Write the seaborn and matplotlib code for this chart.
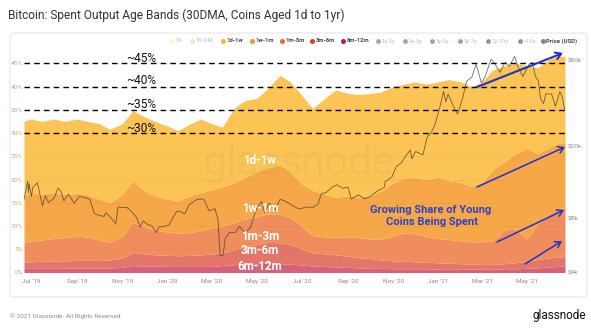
import numpy as np
import pandas as pd
import matplotlib
matplotlib.use("Agg")
import matplotlib.pyplot as plt
import matplotlib.dates as mdates
import matplotlib.ticker as mticker
from matplotlib.patches import FancyBboxPatch
from matplotlib.transforms import IdentityTransform
import seaborn as sns

# ---------------- data ----------------
band_dates = ["2019-06-21", "2019-07-01", "2019-07-15", "2019-08-01", "2019-08-15", "2019-09-01",
              "2019-09-15", "2019-10-01", "2019-10-15", "2019-11-01", "2019-11-15", "2019-12-01",
              "2019-12-15", "2020-01-01", "2020-01-15", "2020-02-01", "2020-02-15", "2020-03-01",
              "2020-03-15", "2020-04-01", "2020-04-15", "2020-05-01", "2020-05-15", "2020-06-01",
              "2020-06-15", "2020-07-01", "2020-07-15", "2020-08-01", "2020-08-15", "2020-09-01",
              "2020-09-15", "2020-10-01", "2020-10-15", "2020-11-01", "2020-11-15", "2020-12-01",
              "2020-12-15", "2021-01-01", "2021-01-15", "2021-02-01", "2021-02-15", "2021-03-01",
              "2021-03-15", "2021-04-01", "2021-04-15", "2021-05-01", "2021-05-15", "2021-06-01",
              "2021-06-10", "2021-06-21"]

# upper edge of each stacked band (cumulative share of spent outputs, %)
edge_6m_12m = [0.9, 0.9, 0.9, 0.9, 0.9, 1.0, 1.0, 1.0, 1.0, 1.1, 1.5, 1.4, 1.4, 1.3, 1.3, 1.3, 1.3,
               1.3, 1.5, 1.7, 1.8, 1.9, 2.0, 1.9, 1.8, 1.6, 1.4, 1.3, 1.2, 1.1, 1.0, 0.9, 0.9, 0.8,
               0.8, 0.8, 0.8, 0.7, 0.7, 0.7, 0.7, 0.7, 0.7, 0.8, 0.8, 0.9, 1.0, 1.2, 1.3, 1.4]
edge_3m_6m = [2.3, 2.3, 2.4, 2.5, 2.5, 2.6, 2.6, 2.6, 2.7, 3.1, 4.3, 4.0, 3.8, 3.7, 3.6, 3.7, 3.8,
              4.0, 4.2, 5.0, 5.5, 6.0, 6.5, 6.4, 6.0, 5.0, 4.2, 4.0, 3.8, 3.5, 3.2, 3.0, 2.7, 2.5,
              2.4, 2.3, 2.2, 2.1, 2.0, 1.9, 1.8, 1.7, 1.7, 1.9, 2.1, 2.4, 2.8, 3.2, 3.3, 3.4]
edge_1m_3m = [6.5, 6.8, 7.0, 7.3, 7.5, 7.8, 7.6, 7.0, 6.5, 7.8, 10.8, 9.8, 9.1, 8.7, 8.5, 8.6, 9.0,
              9.6, 10.0, 10.8, 11.5, 12.0, 12.6, 12.5, 11.8, 9.8, 8.0, 7.6, 7.6, 7.7, 7.5, 7.2, 7.1,
              7.8, 8.5, 8.3, 7.8, 7.3, 7.1, 6.8, 6.6, 6.6, 6.8, 9.2, 9.3, 7.2, 10.5, 12.8, 13.6, 14.0]
edge_1w_1m = [16.5, 17.2, 16.8, 17.2, 16.8, 17.0, 16.7, 15.8, 15.0, 16.8, 19.8, 17.5, 16.5, 15.8,
              15.4, 16.5, 17.2, 17.8, 18.5, 19.3, 20.5, 21.8, 22.5, 23.2, 21.5, 19.0, 17.7, 16.8,
              16.2, 16.5, 16.2, 16.5, 17.5, 19.3, 20.3, 20.5, 20.0, 20.5, 19.8, 19.3, 18.5, 19.5,
              22.0, 24.0, 25.5, 26.8, 25.5, 27.0, 27.7, 28.0]
edge_1d_1w = [32.5, 33.0, 32.5, 33.0, 32.5, 33.0, 32.5, 32.0, 30.8, 32.0, 34.8, 33.5, 32.5, 31.5,
              30.5, 32.0, 33.0, 32.0, 31.3, 35.5, 37.0, 37.5, 39.5, 42.4, 41.0, 38.0, 35.3, 37.5,
              39.3, 38.5, 38.3, 38.5, 38.8, 40.0, 40.5, 41.0, 40.5, 41.0, 41.5, 41.0, 40.0, 41.0,
              43.5, 44.5, 45.0, 44.5, 44.0, 46.0, 46.5, 46.5]

price_dates = ["2019-06-21", "2019-06-22", "2019-06-26", "2019-06-27", "2019-06-28", "2019-07-01",
               "2019-07-03", "2019-07-09", "2019-07-10", "2019-07-16", "2019-07-17", "2019-07-20",
               "2019-07-24", "2019-08-01", "2019-08-06", "2019-08-10", "2019-08-14", "2019-08-20",
               "2019-08-28", "2019-09-04", "2019-09-12", "2019-09-18", "2019-09-24", "2019-10-01",
               "2019-10-07", "2019-10-10", "2019-10-17", "2019-10-23", "2019-10-26", "2019-10-30",
               "2019-11-07", "2019-11-14", "2019-11-20", "2019-11-25", "2019-11-29", "2019-12-05",
               "2019-12-11", "2019-12-17", "2019-12-20", "2019-12-26", "2020-01-03", "2020-01-08",
               "2020-01-14", "2020-01-19", "2020-01-24", "2020-01-30", "2020-02-09", "2020-02-13",
               "2020-02-19", "2020-02-26", "2020-03-05", "2020-03-09", "2020-03-12", "2020-03-16",
               "2020-03-19", "2020-03-25", "2020-04-01", "2020-04-07", "2020-04-15", "2020-04-22",
               "2020-04-29", "2020-05-07", "2020-05-11", "2020-05-17", "2020-05-25", "2020-06-01",
               "2020-06-10", "2020-06-17", "2020-06-27", "2020-07-07", "2020-07-15", "2020-07-22",
               "2020-07-27", "2020-08-02", "2020-08-10", "2020-08-17", "2020-08-24", "2020-09-01",
               "2020-09-05", "2020-09-15", "2020-09-23", "2020-10-01", "2020-10-10", "2020-10-20",
               "2020-10-21", "2020-10-30", "2020-11-05", "2020-11-12", "2020-11-18", "2020-11-24",
               "2020-11-26", "2020-12-01", "2020-12-11", "2020-12-17", "2020-12-22", "2020-12-27",
               "2021-01-02", "2021-01-08", "2021-01-11", "2021-01-14", "2021-01-22", "2021-01-27",
               "2021-02-03", "2021-02-08", "2021-02-15", "2021-02-21", "2021-02-28", "2021-03-05",
               "2021-03-13", "2021-03-17", "2021-03-25", "2021-04-01", "2021-04-07", "2021-04-14",
               "2021-04-18", "2021-04-25", "2021-05-03", "2021-05-08", "2021-05-12", "2021-05-16",
               "2021-05-19", "2021-05-23", "2021-05-26", "2021-06-03", "2021-06-08", "2021-06-14",
               "2021-06-17", "2021-06-21"]
price_usd = [10200, 10700, 12900, 11100, 12400, 10600, 11900, 12600, 12100, 9400, 9700, 10700,
             9800, 10400, 11800, 11300, 10000, 10900, 9700, 10600, 10400, 10200, 8500, 8300,
             8200, 8600, 8000, 7450, 9250, 9200, 9200, 8650, 8100, 7150, 7750, 7400,
             7250, 6650, 7150, 7200, 7350, 8050, 8800, 8700, 8450, 9500, 10150, 10250,
             10200, 8800, 9050, 7900, 4950, 5000, 6200, 6700, 6650, 7200, 6650, 7120,
             8800, 9950, 8600, 9700, 8900, 10200, 9880, 9450, 9000, 9250, 9200, 9550,
             11000, 11100, 11880, 12300, 11750, 11900, 10250, 10800, 10250, 10600, 11300, 11900,
             12800, 13550, 15500, 16300, 17800, 19150, 17100, 18800, 18000, 22800, 23800, 26300,
             32100, 40600, 35500, 39200, 33000, 30400, 37600, 46200, 48600, 57500, 45200, 48800,
             61200, 58900, 51700, 58800, 56000, 63500, 56100, 49000, 57200, 58800, 49100, 46400,
             37000, 34700, 39300, 39200, 33500, 40500, 38000, 31600]

pct_ticks = [0, 5, 10, 15, 20, 25, 30, 35, 40, 45]
price_ticks = [4000, 8000, 20000, 60000]
price_tick_labels = ["$4k", "$8k", "$20k", "$60k"]
ref_levels = [45, 40, 35, 30]
ref_labels = ["~45%", "~40%", "~35%", "~30%"]

legend_names = ["1h", "1h-24h", "1d-1w", "1w-1m", "1m-3m", "3m-6m", "6m-12m", "1y-2y", "2y-3y",
                "3y-5y", "5y-7y", "7y-10y", ">10y", "Price (USD)"]
legend_active = [False, False, True, True, True, True, True, False, False, False, False, False,
                 False, True]

# ---------------- style ----------------
sns.set_theme(style="white")
plt.rcParams['font.family'] = ['Roboto', 'DejaVu Sans']

W, H = 591, 328
fig = plt.figure(figsize=(W / 100, H / 100), dpi=100)
fig.patch.set_facecolor("white")


def fx(px):
    return px / W


def fy(py):
    return 1 - py / H


# card
card = FancyBboxPatch((10, H - 297), 577, 264, boxstyle="round,pad=0,rounding_size=4",
                      transform=IdentityTransform(), facecolor="white", edgecolor="#e6e6e6",
                      linewidth=0.8, zorder=-5)
fig.patches.append(card)

x0, x1, ytop, ybot = 24, 565, 54, 272.5
ax = fig.add_axes([fx(x0), fy(ybot), fx(x1) - fx(x0), fy(ytop) - fy(ybot)])
ax.set_facecolor("none")

d = pd.to_datetime(band_dates)
col_612 = "#d6627a"
col_36 = "#e3756a"
col_13 = "#ef8e5c"
col_1w1m = "#f6a748"
col_1d1w = "#fbc454"
zeros = np.zeros(len(d))
ax.fill_between(d, zeros, edge_6m_12m, color=col_612, lw=0, zorder=1)
ax.fill_between(d, edge_6m_12m, edge_3m_6m, color=col_36, lw=0, zorder=1)
ax.fill_between(d, edge_3m_6m, edge_1m_3m, color=col_13, lw=0, zorder=1)
ax.fill_between(d, edge_1m_3m, edge_1w_1m, color=col_1w1m, lw=0, zorder=1)
ax.fill_between(d, edge_1w_1m, edge_1d_1w, color=col_1d1w, lw=0, zorder=1)

ax.set_xlim(d[0], d[-1])
ax.set_ylim(0, 47)
ax.set_yticks(pct_ticks)
ax.set_yticklabels([f"{v}%" for v in pct_ticks])
for v in pct_ticks[1:]:
    ax.axhline(v, color="black", alpha=0.04, lw=0.6, zorder=2)
for v in ref_levels:
    ax.axhline(v, color="black", lw=1.0, ls=(0, (4, 3)), zorder=3)

ax.xaxis.set_major_locator(mdates.MonthLocator(bymonth=[1, 3, 5, 7, 9, 11]))
ax.xaxis.set_major_formatter(mdates.DateFormatter("%b '%y"))
ax.tick_params(axis="x", length=0, pad=5, labelsize=4.6, labelcolor="#8a8a8a")
ax.tick_params(axis="y", length=0, pad=1, labelsize=4.6, labelcolor="#e3a165")
for s in ax.spines.values():
    s.set_visible(False)
ax.grid(False)

# price on log axis
ax2 = ax.twinx()
pdates = pd.to_datetime(price_dates)
sns.lineplot(x=pdates, y=price_usd, ax=ax2, color="#3d3a30", lw=0.6, alpha=0.75)
ax2.set_yscale("log")
ax2.set_ylim(4000, 65450)
ax2.yaxis.set_major_locator(mticker.FixedLocator(price_ticks))
ax2.yaxis.set_minor_locator(mticker.NullLocator())
ax2.set_yticklabels(price_tick_labels)
ax2.tick_params(axis="y", length=0, pad=2, labelsize=4.6, labelcolor="#8a8a8a")
ax2.set_ylabel("")
ax2.set_xlabel("")
ax2.set_xlim(d[0], d[-1])
for s in ax2.spines.values():
    s.set_visible(False)
ax2.grid(False)

# watermark
fig.text(fx(298), fy(163), "glassnode", fontsize=30, color="#9a8a60", alpha=0.09,
         ha="center", va="center", family=["Roboto", "DejaVu Sans"])

# reference labels
ref_y = [58, 81, 105, 129]
for lab, yy in zip(ref_labels, ref_y):
    fig.text(fx(126), fy(yy), lab, fontsize=8.6, color="#111111", ha="left", va="center")

# band labels
band_labels = ["1d-1w", "1w-1m", "1m-3m", "3m-6m", "6m-12m"]
band_label_y = [160, 208, 236, 251, 267]
for lab, yy in zip(band_labels, band_label_y):
    fig.text(fx(260), fy(yy), lab, fontsize=8.4, color="white", fontweight="bold",
             ha="center", va="center")

fig.text(fx(431), fy(210), "Growing Share of Young", fontsize=8.0, color="#2d43c6",
         fontweight="bold", ha="center", va="center")
fig.text(fx(432), fy(222), "Coins Being Spent", fontsize=8.0, color="#2d43c6",
         fontweight="bold", ha="center", va="center")

# arrows (figure pixel coords)
arrows = [((477, 87), (563, 53), 1.5), ((477, 187), (565, 147), 1.1),
          ((497, 242), (564, 210), 1.1), ((525, 264), (562, 241), 1.1)]
for (sx, sy), (ex, ey), lw in arrows:
    fig.add_artist(matplotlib.patches.FancyArrowPatch(
        (sx, H - sy), (ex, H - ey), transform=IdentityTransform(),
        arrowstyle="->,head_length=4,head_width=2.5", color="#2233c8", lw=lw,
        shrinkA=0, shrinkB=0, zorder=10))

# legend
leg_x = [172, 192, 223, 252, 282, 312, 343, 378, 405, 432, 460, 488, 520, 543]
leg_c = ["#f7f08a", "#f3d148", "#f4b53c", "#ef9434", "#e96a30", "#d53f35", "#b4204e",
         "#8e1857", "#6c186b", "#4d1979", "#2b2680", "#111111", "#111111", "#888888"]
for name, xx, cc, act in zip(legend_names, leg_x, leg_c, legend_active):
    a = 1.0 if act else 0.35
    fig.add_artist(matplotlib.lines.Line2D([fx(xx)], [fy(41)], marker="o", markersize=2.6,
                                           color=cc, alpha=a, lw=0, transform=fig.transFigure))
    fig.text(fx(xx + 3.5), fy(41), name, fontsize=4.2, color="#444444" if act else "#bbbbbb",
             ha="left", va="center", fontweight="bold" if act else "normal")

# title and footer
fig.text(fx(8), fy(15), "Bitcoin: Spent Output Age Bands (30DMA, Coins Aged 1d to 1yr)",
         fontsize=8.6, color="#333333", ha="left", va="center")
fig.text(fx(10), fy(316), "\u00a9 2021 Glassnode. All Rights Reserved.", fontsize=4.6,
         color="#8a8a8a", ha="left", va="center")
fig.text(fx(586), fy(316), "glassnode", fontsize=8.5, color="#111111", ha="right", va="center")

fig.savefig("out.png", dpi=100, facecolor="white")
